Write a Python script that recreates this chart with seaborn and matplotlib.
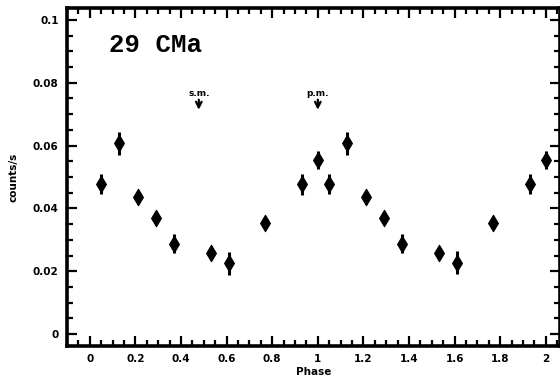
import matplotlib
matplotlib.use("Agg")
import matplotlib.pyplot as plt
import seaborn as sns
import pandas as pd
from matplotlib.ticker import MultipleLocator

phase = [0.05, 0.13, 0.21, 0.29, 0.37, 0.53, 0.61, 0.77, 0.93,
         1.00, 1.05, 1.13, 1.21, 1.29, 1.37, 1.53, 1.61, 1.77, 1.93, 2.00]
counts = [0.0478, 0.0607, 0.0435, 0.0370, 0.0287, 0.0259, 0.0225, 0.0355, 0.0477,
          0.0554, 0.0478, 0.0607, 0.0435, 0.0370, 0.0287, 0.0259, 0.0227, 0.0355, 0.0478, 0.0554]
errors = [0.0033, 0.0037, 0.0020, 0.0015, 0.0030, 0.0013, 0.0037, 0.0015, 0.0033,
          0.0030, 0.0033, 0.0037, 0.0020, 0.0015, 0.0030, 0.0013, 0.0037, 0.0015, 0.0033, 0.0030]
marks_x = [0.478, 1.0]
marks_label = ["s.m.", "p.m."]

df = pd.DataFrame({"Phase": phase, "counts": counts, "err": errors})

sns.set_style("ticks")
plt.rcParams.update({"text.color": "black", "axes.labelcolor": "black",
                     "xtick.color": "black", "ytick.color": "black"})
fig = plt.figure(figsize=(5.6, 3.79), dpi=100)
W, H = 560, 379
left, right, top, bottom = 67, 560, 8, 346
ax = fig.add_axes([left / W, 1 - bottom / H, (right - left) / W, (bottom - top) / H])

ax.errorbar(df["Phase"], df["counts"], yerr=df["err"], fmt="none",
            ecolor="black", elinewidth=2.2, capsize=0, zorder=2)
sns.scatterplot(data=df, x="Phase", y="counts", marker="d", s=70,
                color="black", edgecolor="black", linewidth=0.8, ax=ax, zorder=3)

ax.set_xlim(-0.1, 2.062)
ax.set_ylim(-0.0038, 0.1038)

ax.xaxis.set_minor_locator(MultipleLocator(0.05))
ax.yaxis.set_minor_locator(MultipleLocator(0.005))
ax.set_xticks([0, 0.2, 0.4, 0.6, 0.8, 1.0, 1.2, 1.4, 1.6, 1.8, 2.0])
ax.set_xticklabels(["0", "0.2", "0.4", "0.6", "0.8", "1", "1.2", "1.4", "1.6", "1.8", "2"])
ax.set_yticks([0, 0.02, 0.04, 0.06, 0.08, 0.1])
ax.set_yticklabels(["0", "0.02", "0.04", "0.06", "0.08", "0.1"])

ax.tick_params(which="both", direction="in", top=True, right=True,
               labelsize=7.5, pad=6)
ax.tick_params(which="major", length=7, width=1.6)
ax.tick_params(which="minor", length=4, width=1.6)
for lab in ax.get_xticklabels() + ax.get_yticklabels():
    lab.set_fontweight("heavy")

for s in ax.spines.values():
    s.set_linewidth(2.6)
    s.set_color("black")

ax.set_xlabel("Phase", fontsize=7.5, fontweight="heavy", labelpad=2)
ax.set_ylabel("counts/s", fontsize=7.5, fontweight="heavy", labelpad=10)

ax.text(0.085, 0.092, "29 CMa", fontsize=18.5, fontweight="bold",
        family=["Liberation Mono", "DejaVu Sans Mono"], va="center", ha="left")

for mx, ml in zip(marks_x, marks_label):
    ax.annotate("", xy=(mx, 0.0705), xytext=(mx, 0.0755),
                arrowprops=dict(arrowstyle="->", color="black", lw=1.6))
    ax.text(mx, 0.0765, ml, fontsize=6.5, fontweight="heavy", ha="center", va="center")

fig.savefig("out.png", dpi=100)
